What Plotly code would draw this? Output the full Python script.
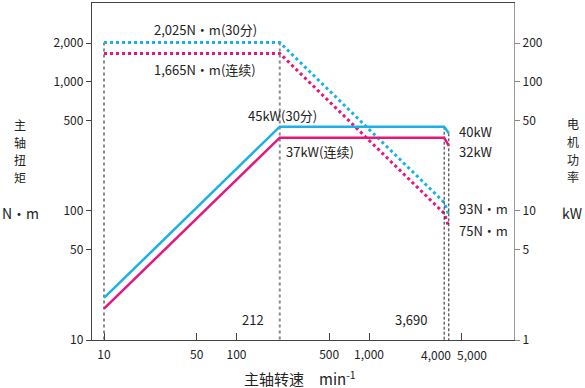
import math
import plotly.graph_objects as go

# ---- data ----
speed = [10, 212, 3690, 4000]                 # min^-1
torque_30min = [2025, 2025, 116.5, 93]        # N·m (30分)
torque_cont = [1665, 1665, 95.8, 75]          # N·m (连续)
power_30min = [2.12, 45, 45, 40]              # kW (30分)
power_cont = [1.75, 37, 37, 32]               # kW (连续)

x_tickvals = [10, 50, 100, 500, 1000, 5000]
x_ticktext = ["10", "50", "100", "500", "1,000", ""]
yl_tickvals = [10, 50, 100, 500, 1000, 2000]
yl_ticktext = ["10", "50", "100", "500", "1,000", "2,000"]
yr_tickvals = [1, 5, 10, 50, 100, 200]
yr_ticktext = ["1", "5", "10", "50", "100", "200"]

BLUE = "#1cb1e6"
PINK = "#e5177c"
FONT = "Noto Sans CJK SC"
W, H = 585, 388
L, R, T, B = 92, 514, 3, 340

def px(x, y):
    return (x - L) / (R - L), (B - y) / (B - T)

fig = go.Figure()

# reference (guide) lines
fig.add_trace(go.Scatter(x=[speed[0], speed[0]], y=[torque_30min[0], 10], mode="lines",
                         line=dict(color="#8a8a8a", width=2, dash="dot"), hoverinfo="skip"))
fig.add_trace(go.Scatter(x=[speed[1], speed[1]], y=[torque_30min[1], 10], mode="lines",
                         line=dict(color="#8a8a8a", width=2, dash="dot"), hoverinfo="skip"))
fig.add_trace(go.Scatter(x=[speed[2], speed[2]], y=[power_30min[2], 1], mode="lines", yaxis="y2",
                         line=dict(color="#222", width=1, dash="3px,2px"), hoverinfo="skip"))
fig.add_trace(go.Scatter(x=[speed[3], speed[3]], y=[power_30min[3], 1], mode="lines", yaxis="y2",
                         line=dict(color="#222", width=1, dash="3px,2px"), hoverinfo="skip"))

# torque (dotted)
fig.add_trace(go.Scatter(x=speed, y=torque_30min, mode="lines",
                         line=dict(color=BLUE, width=3, dash="dot")))
fig.add_trace(go.Scatter(x=speed, y=torque_cont, mode="lines",
                         line=dict(color=PINK, width=3, dash="dot")))
# power (solid)
fig.add_trace(go.Scatter(x=speed, y=power_30min, mode="lines", yaxis="y2",
                         line=dict(color=BLUE, width=2.5)))
fig.add_trace(go.Scatter(x=speed, y=power_cont, mode="lines", yaxis="y2",
                         line=dict(color=PINK, width=2.5)))

ann = []
def label(text, x, y, size=13, xanchor="center", yanchor="middle"):
    ax, ay = px(x, y)
    ann.append(dict(text=text, x=ax, y=ay, xref="paper", yref="paper", showarrow=False,
                    xanchor=xanchor, yanchor=yanchor, font=dict(size=size, color="#222", family=FONT)))

label("2,025N・m(30分)", 205, 29)
label("1,665N・m(连续)", 205, 69)
label("45kW(30分)", 282, 115)
label("37kW(连续)", 284, 152, xanchor="left")
label("40kW", 457, 131, xanchor="left")
label("32kW", 457, 152, xanchor="left")
label("93N・m", 457, 208, xanchor="left")
label("75N・m", 457, 230, xanchor="left")
label("212", 253, 319)
label("3,690", 411, 319)
label("4,000", 436, 354, size=12)
label("5,000", 472, 354, size=12)
for i, ch in enumerate("主轴扭矩"):
    label(ch, 19.5, 124.5 + i * 17.5, size=12)
label("N・m", 20, 213, size=14)
for i, ch in enumerate("电机功率"):
    label(ch, 572.5, 124 + i * 17.5, size=12)
label("kW", 572, 213, size=14)
label("主轴转速　min<sup>-1</sup>", 300, 378, size=15)

fig.update_layout(
    width=W, height=H,
    margin=dict(l=L, r=W - R, t=T, b=H - B),
    paper_bgcolor="white", plot_bgcolor="white",
    showlegend=False, hovermode=False,
    font=dict(family=FONT, size=12, color="#222"),
    annotations=ann,
    xaxis=dict(type="log", range=[0.9094, 4.094], tickvals=x_tickvals, ticktext=x_ticktext,
               ticks="inside", ticklen=7, tickcolor="#444", showgrid=False, zeroline=False,
               showline=True, linecolor="#444", linewidth=1.3, mirror=True,
               ticklabelstandoff=3,
               tickfont=dict(size=12, family=FONT), automargin=False),
    yaxis=dict(type="log", range=[1, 3.612], tickvals=yl_tickvals, ticktext=yl_ticktext,
               ticks="outside", ticklen=5, tickcolor="#444", showgrid=False, zeroline=False,
               showline=True, linecolor="#444", linewidth=1.3,
               tickfont=dict(size=12, family=FONT), automargin=False),
    yaxis2=dict(type="log", range=[0, 2.612], tickvals=yr_tickvals, ticktext=yr_ticktext,
                overlaying="y", side="right",
                ticks="outside", ticklen=5, tickcolor="#888", showgrid=False, zeroline=False,
                showline=True, linecolor="#999", linewidth=1.3,
                tickfont=dict(size=12, family=FONT), automargin=False),
)

fig.write_html("out.html", config={"displayModeBar": False},
               post_script="document.body.style.margin='0';document.body.style.padding='0';")
